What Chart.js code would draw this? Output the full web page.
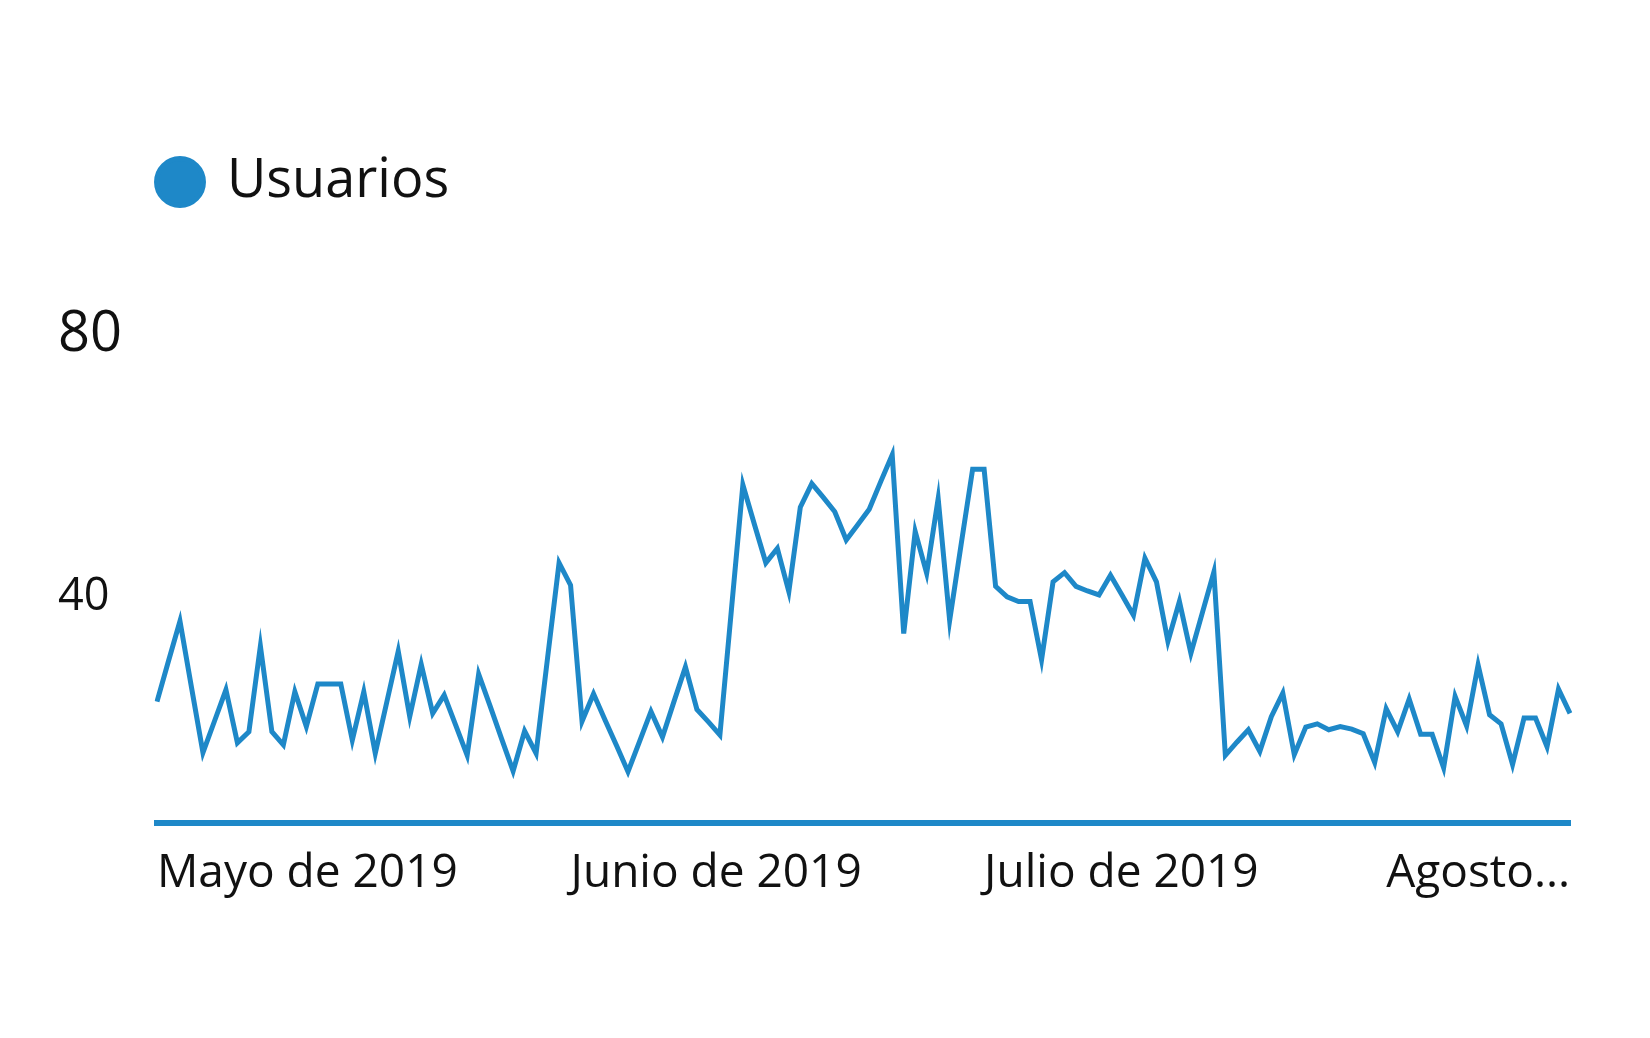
<!DOCTYPE html>
<html lang="es">
<head>
<meta charset="utf-8">
<title>Usuarios</title>
<script src="https://cdn.jsdelivr.net/npm/chart.js@4.4.1/dist/chart.umd.min.js"></script>
<style>
    html, body { margin: 0; padding: 0; background: #ffffff; }
    #grafico { display: block; }
</style>
</head>
<body>
<canvas id="grafico" width="1650" height="1038"></canvas>
<script>
// Usuarios por día
const usuarios = [
    24.0, 30.2, 36.3, 26.2, 16.2, 21.0, 25.8, 17.7, 19.4, 32.5,
    19.4, 17.4, 25.5, 20.2, 26.7, 26.7, 26.7, 18.1, 25.5, 16.1,
    23.9, 31.7, 21.7, 29.7, 22.2, 25.0, 20.4, 15.8, 28.2, 23.3,
    18.3, 13.4, 19.5, 16.1, 30.7, 45.2, 41.8, 21.0, 25.2, 21.2,
    17.3, 13.3, 17.9, 22.5, 18.6, 24.0, 29.3, 22.8, 20.9, 18.9,
    38.0, 57.1, 51.1, 45.2, 47.4, 40.8, 53.7, 57.3, 55.2, 53.0,
    48.7, 51.0, 53.4, 57.6, 61.7, 34.4, 50.0, 43.6, 55.0, 36.4,
    48.0, 59.5, 59.5, 41.6, 40.0, 39.3, 39.3, 30.4, 42.3, 43.7,
    41.6, 40.9, 40.3, 43.3, 40.3, 37.2, 45.9, 42.3, 33.2, 39.3,
    31.4, 37.6, 43.8, 15.8, 17.8, 19.7, 16.4, 21.7, 25.3, 15.9,
    20.1, 20.6, 19.7, 20.2, 19.8, 19.1, 14.7, 22.9, 19.4, 24.4,
    19.0, 19.0, 13.9, 24.8, 20.3, 29.6, 22.0, 20.6, 14.4, 21.5,
    21.5, 17.1, 25.9, 22.2
];

// Etiquetas del eje X y el índice del día donde aparecen
const etiquetasEje = ['Mayo de 2019', 'Junio de 2019', 'Julio de 2019', 'Agosto...'];
const indicesEtiquetas = [0, 36, 72, 107];

// Marcas del eje Y
const ticksY = [40, 80];

const AZUL = '#1e88c8';
const TEXTO = '#111111';
const FUENTE = "'Open Sans', sans-serif";

// categorías: un día por punto
const fechaInicio = new Date(2019, 4, 1);
const dias = usuarios.map((_, i) => {
    const d = new Date(fechaInicio);
    d.setDate(d.getDate() + i);
    return d.toLocaleDateString('es-ES');
});

// deja espacio fijo debajo de la leyenda
const alturaLeyenda = {
    id: 'alturaLeyenda',
    beforeInit(chart) {
        const fitOriginal = chart.legend.fit;
        chart.legend.fit = function () {
            fitOriginal.call(this);
            this.height = 282;
        };
    }
};

new Chart(document.getElementById('grafico'), {
    type: 'line',
    data: {
        labels: dias,
        datasets: [{
            label: 'Usuarios',
            data: usuarios,
            borderColor: AZUL,
            backgroundColor: AZUL,
            pointBackgroundColor: AZUL,
            pointBorderColor: AZUL,
            borderWidth: 5,
            pointRadius: 0,
            tension: 0,
            fill: false,
            borderJoinStyle: 'miter'
        }]
    },
    options: {
        responsive: false,
        animation: false,
        devicePixelRatio: 1,
        layout: { padding: { left: 58, top: 53, right: 80, bottom: 114 } },
        plugins: {
            legend: {
                position: 'top',
                align: 'start',
                labels: {
                    usePointStyle: true,
                    pointStyle: 'circle',
                    boxWidth: 40,
                    boxHeight: 33.2,
                    padding: 102,
                    color: TEXTO,
                    font: { family: FUENTE, size: 54 }
                }
            },
            tooltip: { enabled: false }
        },
        scales: {
            x: {
                type: 'category',
                offset: false,
                grid: { display: false, drawTicks: false },
                border: { display: true, color: AZUL, width: 6 },
                ticks: {
                    autoSkip: false,
                    maxRotation: 0,
                    minRotation: 0,
                    align: 'start',
                    padding: 22.9,
                    color: TEXTO,
                    font: { family: FUENTE, size: 46 },
                    callback: (valor, i) => {
                        const k = indicesEtiquetas.indexOf(i);
                        return k >= 0 ? etiquetasEje[k] : '';
                    }
                }
            },
            y: {
                min: 5.46,
                max: 80,
                grid: { display: false, drawTicks: false },
                border: { display: false },
                afterBuildTicks: (eje) => { eje.ticks = ticksY.map(v => ({ value: v })); },
                afterFit: (eje) => { eje.width = 99; },
                ticks: {
                    crossAlign: 'far',
                    padding: 0,
                    color: TEXTO,
                    font: (ctx) => ({ family: FUENTE, size: ctx.tick && ctx.tick.value === 80 ? 56 : 45 })
                }
            }
        }
    },
    plugins: [alturaLeyenda]
});
</script>
</body>
</html>
